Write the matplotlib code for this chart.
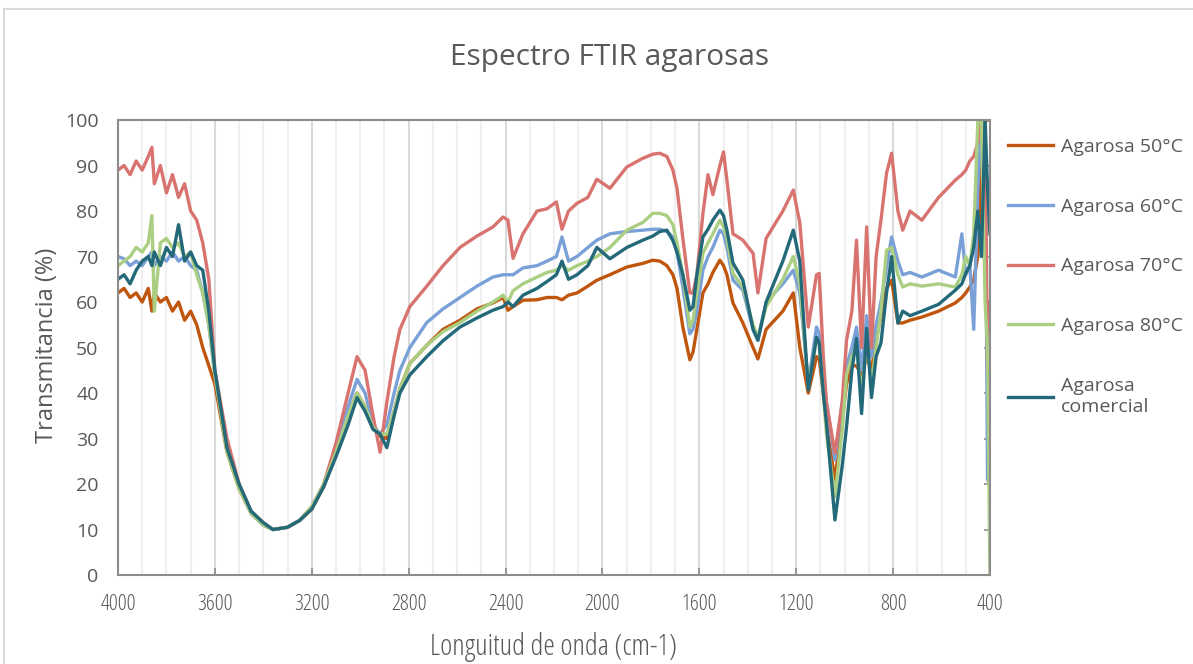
import numpy as np
import matplotlib
matplotlib.use('Agg')
from matplotlib import pyplot as plt
from matplotlib.patches import Rectangle
from matplotlib.ticker import MultipleLocator

plt.rcParams['font.family'] = ['Open Sans', 'DejaVu Sans']

# numero de onda (cm-1)
wn = [4000, 3975, 3950, 3925, 3900, 3875, 3860, 3850, 3825, 3800, 3775, 3750, 3725, 3700, 3675, 3650, 3625, 3600,
      3550, 3500, 3450, 3400, 3360, 3300, 3250, 3200, 3150, 3100, 3050, 3013, 2980, 2947, 2918, 2890, 2860, 2836,
      2795, 2725, 2658, 2588, 2518, 2452, 2410, 2390, 2369, 2328, 2270, 2229, 2190, 2167, 2140, 2105, 2060, 2023, 1969, 1899,
      1833, 1792, 1763, 1734, 1709, 1692, 1668, 1639, 1626, 1610, 1585, 1564, 1544, 1515, 1500, 1486, 1461, 1420, 1378, 1358,
      1324, 1255, 1212, 1185, 1150, 1116, 1105, 1088, 1075, 1040, 1010, 992, 970, 951, 930, 909, 889, 870, 850, 827,
      806, 780, 760, 730, 681, 612, 543, 516, 500, 483, 467, 450, 435, 420, 410, 400]

t50 = [62, 63, 61, 62, 60, 63, 58, 62, 60, 61, 58, 60, 56, 58, 55, 50, 46, 42,
       27, 19, 13.5, 11, 10, 10.5, 12, 14.5, 19.5, 27, 35, 40, 37, 33, 30.5, 30, 36, 41,
       46.5, 50.5, 54, 56, 58.5, 59.8, 61, 58.2, 59, 60.4, 60.5, 61, 61, 60.5, 61.5, 62, 63.5, 64.8, 66, 67.7,
       68.5, 69.2, 69, 68, 66, 63, 54.5, 47.3, 49, 54, 62, 64, 66.5, 69.2, 68, 66, 59.8, 55.4, 50, 47.5,
       54, 58, 62, 50, 40, 48, 47.5, 40, 33, 20.9, 34, 42, 46, 46, 44, 48, 45, 52, 56.7, 63,
       64.8, 55.4, 55.4, 56, 56.7, 58, 59.8, 61, 62, 63.3, 65, 70, 90, 100, 100, 100]

t60 = [70, 69.5, 68, 69, 68, 70, 71, 68, 70, 69, 71, 69, 70, 68, 67, 62, 55, 44,
       28, 19.5, 13.5, 11, 10, 10.5, 12, 15, 20, 28, 37, 43, 40, 33, 31, 33, 40, 45,
       50, 55.5, 58.5, 61, 63.5, 65.5, 66, 66, 66, 67.5, 68, 69, 70, 74.3, 69, 70, 72, 73.6, 75, 75.5,
       75.8, 76, 76, 75.5, 74.3, 71, 63.3, 53, 54, 58, 67, 70, 72, 75.8, 75, 72, 64.8, 62.6, 54, 51.6,
       60, 64, 67, 62, 42.2, 54.5, 53, 44, 38, 25.3, 38, 46, 50, 54.5, 45, 57, 48, 55, 60, 67.7,
       74.3, 69, 66, 66.5, 65.5, 67, 65.5, 75, 66, 68, 54, 85, 100, 100, 21, 20]

t70 = [89, 90, 88, 91, 89, 92, 94, 86, 90, 84, 88, 83, 86, 80, 78, 73, 65, 45,
       30, 20, 14, 11.5, 10, 10.5, 12, 15, 20, 29, 40, 48, 45, 35, 27, 38, 48, 54,
       59, 63.5, 68, 72, 74.5, 76.5, 78.7, 78, 69.6, 75, 80, 80.5, 82, 76, 80, 81.7, 83, 87, 85, 89.7,
       91.6, 92.5, 92.7, 92, 89, 85, 74, 62, 62, 66, 79.5, 88, 83.6, 90, 93, 86.8, 75, 73.6, 70.7, 62,
       74, 80, 84.6, 77.4, 54.5, 66, 66.3, 48, 38, 26.8, 38, 51.6, 58, 73.6, 50, 76.5, 50, 70, 78, 88.3,
       92.7, 80, 75.8, 80, 78, 83, 86.8, 88, 89, 91, 92, 95, 100, 100, 45, 60]

t80 = [68, 69, 70, 72, 71, 73, 79, 58, 73, 74, 72, 73, 70, 71, 66, 62, 55, 44,
       27, 19, 13.5, 11, 10, 10.5, 12, 15, 20, 27, 35, 40, 37, 32.5, 31, 31, 36, 41,
       46.5, 50.5, 53.5, 55.5, 58, 60, 61.5, 60, 62.5, 64, 65.5, 66.5, 67, 68, 67, 68, 69, 70, 72, 75.8,
       77.5, 79.5, 79.5, 79, 77, 73, 66, 54.5, 56, 62, 70.7, 73, 75, 78, 76.5, 74, 66.3, 63.3, 55, 52.3,
       59, 65, 70, 64, 41.5, 52, 51, 40, 31, 17.2, 32, 44, 48, 50, 40, 51, 42, 50, 58, 71.4,
       72, 66, 63.3, 64, 63.5, 64, 63.3, 66, 70, 68, 75, 100, 100, 60, 50, 0]

tcom = [65, 66, 64, 67, 69, 70, 68, 71, 68, 72, 70, 77, 69, 71, 68, 67, 58, 45,
        28, 20, 14, 11.5, 10, 10.5, 12, 14.5, 19.5, 26, 33, 39, 36, 32, 31, 28, 35, 40,
        44, 48, 51.5, 54.5, 56.5, 58.2, 59, 60, 59, 61.5, 63, 64.5, 66, 69, 65, 66, 68, 72, 69.5, 72,
        73.6, 74.5, 75.5, 75.8, 73.5, 71, 66, 58.2, 59, 66, 74.3, 76, 78, 80.2, 79, 75.8, 68.6, 64.8, 54, 51.6,
        60, 69, 75.8, 69, 40.7, 52.3, 51, 40, 33.4, 12.1, 24, 32.6, 45, 52, 35.5, 54.2, 39, 48, 51, 62,
        70, 55.4, 58, 57, 58, 59.5, 62.6, 64, 66.3, 68, 72, 80, 70, 100, 85, 75]

series = [t50, t60, t70, t80, tcom]
labels = ['Agarosa 50°C', 'Agarosa 60°C', 'Agarosa 70°C', 'Agarosa 80°C', 'Agarosa\ncomercial']
colors = ['#C0560E', '#7AA0D8', '#D8736F', '#ABCF82', '#23697A']

gris = '#595959'

fig = plt.figure(figsize=(11.93, 6.64), dpi=100)
fig.patches.append(Rectangle((4 / 1193, -0.1), 1.2, 1.1 - 9 / 664, transform=fig.transFigure,
                             fill=False, edgecolor='#D9D9D9', linewidth=1.5))
ax = fig.add_axes([0.0989, 0.134, 0.7309, 0.6852])

for y, lab, c in zip(series, labels, colors):
    ax.plot(wn, y, color=c, linewidth=2.4, label=lab)

ax.set_xlim(4000, 400)
ax.set_ylim(0, 100)
ax.xaxis.set_major_locator(MultipleLocator(400))
ax.xaxis.set_minor_locator(MultipleLocator(100))
ax.yaxis.set_major_locator(MultipleLocator(10))
ax.grid(axis='x', which='major', color='#D9D9D9', linewidth=1.5)
ax.grid(axis='x', which='minor', color='#F0F0F0', linewidth=1.5)
ax.set_axisbelow(True)
for s in ax.spines.values():
    s.set_color('#8C8C8C')
    s.set_linewidth(1.5)

ax.tick_params(axis='x', which='major', direction='in', length=5, width=1.2, color='#8C8C8C',
               labelsize=16, labelcolor=gris, pad=14)
ax.tick_params(axis='x', which='minor', length=0)
ax.tick_params(axis='y', left=False, right=True, direction='in', length=4, width=1.2, color='#8C8C8C',
               labelsize=14, labelcolor=gris, pad=14)
for t in ax.get_xticklabels():
    t.set_fontstretch('condensed')

fig.text(0.511, 0.913, 'Espectro FTIR agarosas', ha='center', va='center', fontsize=21.5, color=gris)
fig.text(0.4636, 0.025, 'Longuitud de onda (cm-1)', ha='center', va='center', fontsize=21,
         color=gris, fontstretch='condensed')
fig.text(0.0394, 0.480, 'Transmitancia (%)', ha='center', va='center', rotation=90, fontsize=17,
         color=gris)

fig.legend(loc='upper left', bbox_to_anchor=(0.837, 0.807), frameon=False, fontsize=14,
           handlelength=2.3, handletextpad=0.4, labelspacing=2.15, borderpad=0, labelcolor=gris)

fig.savefig('out.png', dpi=100)
